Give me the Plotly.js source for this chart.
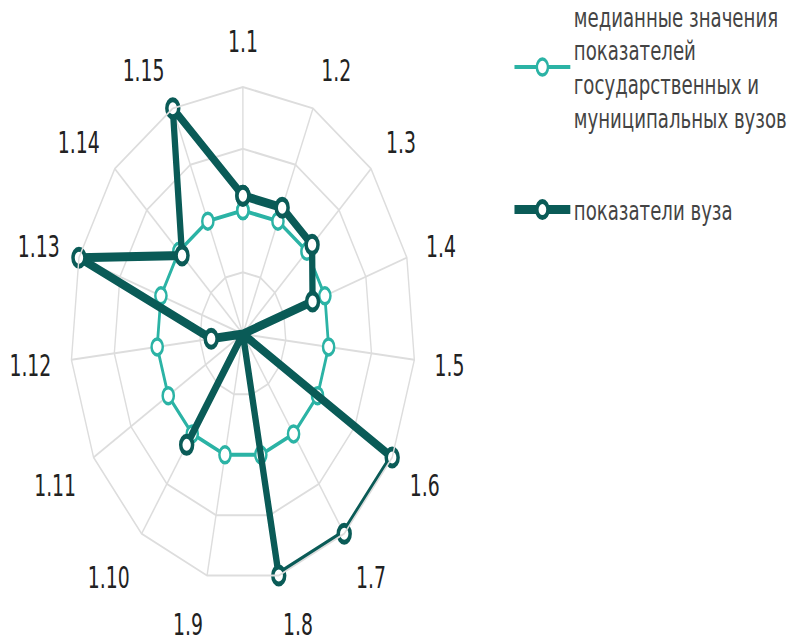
<!DOCTYPE html>
<html>
<head>
<meta charset="utf-8">
<script src="https://cdn.plot.ly/plotly-3.0.1.min.js"></script>
<style>
  html, body { margin: 0; padding: 0; background: #ffffff; overflow: hidden; }
  #wrap { width: 1135px; height: 645px; transform: translateY(-7px) scaleX(0.698); transform-origin: 0 0; }
</style>
</head>
<body>
<div id="wrap"></div>
<script>
const categories = ["1.1","1.2","1.3","1.4","1.5","1.6","1.7","1.8","1.9","1.10","1.11","1.12","1.13","1.14","1.15"];
const medianValues = [1,1,1,1,1,1,1,1,1,1,1,1,1,1,1];
const universityValues = [1.12,1.12,1.08,0.85,0,2,2,2,0,1.11,0,0.37,2,0.95,2];
const medianName = "медианные значения<br>показателей<br>государственных и<br>муниципальных вузов";
const universityName = "показатели вуза";

function closeLoop(arr) { return arr.concat([arr[0]]); }

const tealColor = "#2bb3a5";
const darkColor = "#0a5b57";
const fontFam = "DejaVu Sans Condensed, DejaVu Sans, sans-serif";
const legendFam = "DejaVu Sans, sans-serif";

const traces = [
  {
    type: "scatterpolar",
    r: closeLoop(medianValues),
    theta: closeLoop(categories),
    name: medianName,
    legendgroup: "a",
    mode: "lines+markers",
    line: { color: tealColor, width: 4 },
    marker: { size: 16, color: "#ffffff", line: { color: tealColor, width: 3.5 } }
  },
  {
    type: "scatterpolar",
    r: closeLoop(universityValues),
    theta: closeLoop(categories),
    name: universityName,
    legendgroup: "b",
    mode: "lines+markers",
    line: { color: darkColor, width: 9 },
    marker: { size: 17, color: "#ffffff", line: { color: darkColor, width: 5 } }
  }
];

const layout = {
  width: 1135,
  height: 645,
  margin: { l: 0, r: 0, t: 0, b: 0 },
  paper_bgcolor: "#ffffff",
  font: { family: fontFam, color: "#222222" },
  showlegend: true,
  legend: {
    x: 0.645, y: 1.0, xanchor: "left", yanchor: "top",
    font: { family: legendFam, size: 26, color: "#444444" },
    itemwidth: 80,
    tracegroupgap: 55,
    bgcolor: "rgba(0,0,0,0)"
  },
  polar: {
    domain: { x: [0.0890, 0.5242], y: [0.0884, 0.8543] },
    bgcolor: "#ffffff",
    gridshape: "linear",
    radialaxis: {
      range: [0, 2], dtick: 0.5, showticklabels: false, ticks: "",
      showline: false, gridcolor: "#dddddd", gridwidth: 2
    },
    angularaxis: {
      type: "category",
      direction: "clockwise", rotation: 90,
      showline: true, linecolor: "#dddddd", linewidth: 2,
      gridcolor: "#dddddd", gridwidth: 2,
      ticks: "outside", ticklen: 22, tickcolor: "rgba(0,0,0,0)",
      tickfont: { family: fontFam, size: 30, color: "#222222" }
    }
  }
};

Plotly.newPlot("wrap", traces, layout, { displayModeBar: false, staticPlot: true });
</script>
</body>
</html>
